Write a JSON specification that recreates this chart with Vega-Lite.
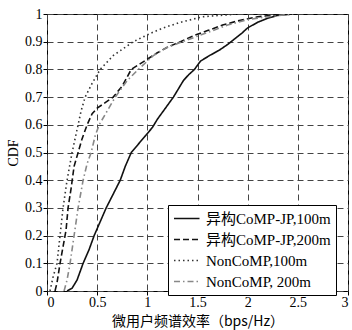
{
  "$schema": "https://vega.github.io/schema/vega-lite/v6.json",
  "autosize": "none",
  "width": 301,
  "height": 277,
  "padding": {"left": 47, "top": 14, "right": 4, "bottom": 39},
  "background": "white",
  "config": {
    "view": {"stroke": "black", "strokeWidth": 1},
    "font": "Liberation Serif",
    "axis": {
      "labelFont": "Liberation Serif",
      "labelFontSize": 14,
      "labelColor": "black",
      "titleFont": "Liberation Serif",
      "titleFontSize": 14,
      "titleFontWeight": "normal",
      "titleColor": "black",
      "grid": true,
      "gridColor": "#444",
      "gridDash": [6, 4],
      "gridWidth": 1,
      "domain": false,
      "tickColor": "black",
      "tickSize": 4
    },
    "legend": {
      "title": null,
      "orient": "none",
      "legendX": 121,
      "legendY": 191,
      "fillColor": "white",
      "strokeColor": "black",
      "padding": 5,
      "rowPadding": 4,
      "symbolType": "M-1,0H2.4",
      "symbolSize": 225,
      "symbolStrokeWidth": 1.6,
      "labelFont": "Liberation Serif, Noto Sans CJK SC",
      "labelFontSize": 15,
      "labelColor": "black",
      "labelOffset": 16
    }
  },
  "data": {
    "values": [
      {"s": "异构CoMP-JP,100m", "x": 0.2, "y": 0},
      {"s": "异构CoMP-JP,100m", "x": 0.25, "y": 0.01},
      {"s": "异构CoMP-JP,100m", "x": 0.3, "y": 0.04},
      {"s": "异构CoMP-JP,100m", "x": 0.36, "y": 0.1},
      {"s": "异构CoMP-JP,100m", "x": 0.42, "y": 0.15},
      {"s": "异构CoMP-JP,100m", "x": 0.47, "y": 0.2},
      {"s": "异构CoMP-JP,100m", "x": 0.53, "y": 0.25},
      {"s": "异构CoMP-JP,100m", "x": 0.59, "y": 0.3},
      {"s": "异构CoMP-JP,100m", "x": 0.66, "y": 0.35},
      {"s": "异构CoMP-JP,100m", "x": 0.73, "y": 0.4},
      {"s": "异构CoMP-JP,100m", "x": 0.78, "y": 0.45},
      {"s": "异构CoMP-JP,100m", "x": 0.84, "y": 0.5},
      {"s": "异构CoMP-JP,100m", "x": 0.91, "y": 0.53},
      {"s": "异构CoMP-JP,100m", "x": 0.98, "y": 0.56},
      {"s": "异构CoMP-JP,100m", "x": 1.05, "y": 0.59},
      {"s": "异构CoMP-JP,100m", "x": 1.1, "y": 0.62},
      {"s": "异构CoMP-JP,100m", "x": 1.18, "y": 0.66},
      {"s": "异构CoMP-JP,100m", "x": 1.26, "y": 0.7},
      {"s": "异构CoMP-JP,100m", "x": 1.31, "y": 0.73},
      {"s": "异构CoMP-JP,100m", "x": 1.36, "y": 0.76},
      {"s": "异构CoMP-JP,100m", "x": 1.41, "y": 0.78},
      {"s": "异构CoMP-JP,100m", "x": 1.47, "y": 0.8},
      {"s": "异构CoMP-JP,100m", "x": 1.53, "y": 0.83},
      {"s": "异构CoMP-JP,100m", "x": 1.62, "y": 0.85},
      {"s": "异构CoMP-JP,100m", "x": 1.72, "y": 0.87},
      {"s": "异构CoMP-JP,100m", "x": 1.8, "y": 0.89},
      {"s": "异构CoMP-JP,100m", "x": 1.87, "y": 0.91},
      {"s": "异构CoMP-JP,100m", "x": 1.94, "y": 0.93},
      {"s": "异构CoMP-JP,100m", "x": 2.0, "y": 0.95},
      {"s": "异构CoMP-JP,100m", "x": 2.1, "y": 0.97},
      {"s": "异构CoMP-JP,100m", "x": 2.2, "y": 0.985},
      {"s": "异构CoMP-JP,100m", "x": 2.3, "y": 0.995},
      {"s": "异构CoMP-JP,100m", "x": 2.45, "y": 1.0},
      {"s": "异构CoMP-JP,200m", "x": 0.08, "y": 0},
      {"s": "异构CoMP-JP,200m", "x": 0.1, "y": 0.03},
      {"s": "异构CoMP-JP,200m", "x": 0.13, "y": 0.1},
      {"s": "异构CoMP-JP,200m", "x": 0.16, "y": 0.16},
      {"s": "异构CoMP-JP,200m", "x": 0.19, "y": 0.22},
      {"s": "异构CoMP-JP,200m", "x": 0.21, "y": 0.3},
      {"s": "异构CoMP-JP,200m", "x": 0.24, "y": 0.37},
      {"s": "异构CoMP-JP,200m", "x": 0.27, "y": 0.45},
      {"s": "异构CoMP-JP,200m", "x": 0.31, "y": 0.5},
      {"s": "异构CoMP-JP,200m", "x": 0.35, "y": 0.55},
      {"s": "异构CoMP-JP,200m", "x": 0.4, "y": 0.6},
      {"s": "异构CoMP-JP,200m", "x": 0.45, "y": 0.64},
      {"s": "异构CoMP-JP,200m", "x": 0.5, "y": 0.66},
      {"s": "异构CoMP-JP,200m", "x": 0.58, "y": 0.68},
      {"s": "异构CoMP-JP,200m", "x": 0.66, "y": 0.7},
      {"s": "异构CoMP-JP,200m", "x": 0.75, "y": 0.74},
      {"s": "异构CoMP-JP,200m", "x": 0.84, "y": 0.8},
      {"s": "异构CoMP-JP,200m", "x": 0.97, "y": 0.83},
      {"s": "异构CoMP-JP,200m", "x": 1.1, "y": 0.86},
      {"s": "异构CoMP-JP,200m", "x": 1.2, "y": 0.88},
      {"s": "异构CoMP-JP,200m", "x": 1.33, "y": 0.9},
      {"s": "异构CoMP-JP,200m", "x": 1.45, "y": 0.92},
      {"s": "异构CoMP-JP,200m", "x": 1.6, "y": 0.94},
      {"s": "异构CoMP-JP,200m", "x": 1.75, "y": 0.96},
      {"s": "异构CoMP-JP,200m", "x": 1.9, "y": 0.975},
      {"s": "异构CoMP-JP,200m", "x": 2.1, "y": 0.99},
      {"s": "异构CoMP-JP,200m", "x": 2.4, "y": 1.0},
      {"s": "NonCoMP,100m", "x": 0.03, "y": 0},
      {"s": "NonCoMP,100m", "x": 0.06, "y": 0.05},
      {"s": "NonCoMP,100m", "x": 0.1, "y": 0.1},
      {"s": "NonCoMP,100m", "x": 0.13, "y": 0.2},
      {"s": "NonCoMP,100m", "x": 0.16, "y": 0.3},
      {"s": "NonCoMP,100m", "x": 0.2, "y": 0.4},
      {"s": "NonCoMP,100m", "x": 0.25, "y": 0.5},
      {"s": "NonCoMP,100m", "x": 0.28, "y": 0.55},
      {"s": "NonCoMP,100m", "x": 0.31, "y": 0.6},
      {"s": "NonCoMP,100m", "x": 0.34, "y": 0.65},
      {"s": "NonCoMP,100m", "x": 0.38, "y": 0.7},
      {"s": "NonCoMP,100m", "x": 0.45, "y": 0.75},
      {"s": "NonCoMP,100m", "x": 0.53, "y": 0.8},
      {"s": "NonCoMP,100m", "x": 0.66, "y": 0.85},
      {"s": "NonCoMP,100m", "x": 0.86, "y": 0.9},
      {"s": "NonCoMP,100m", "x": 1.03, "y": 0.93},
      {"s": "NonCoMP,100m", "x": 1.16, "y": 0.95},
      {"s": "NonCoMP,100m", "x": 1.33, "y": 0.97},
      {"s": "NonCoMP,100m", "x": 1.55, "y": 0.99},
      {"s": "NonCoMP,100m", "x": 1.9, "y": 1.0},
      {"s": "NonCoMP, 200m", "x": 0.17, "y": 0},
      {"s": "NonCoMP, 200m", "x": 0.2, "y": 0.04},
      {"s": "NonCoMP, 200m", "x": 0.23, "y": 0.1},
      {"s": "NonCoMP, 200m", "x": 0.27, "y": 0.2},
      {"s": "NonCoMP, 200m", "x": 0.31, "y": 0.3},
      {"s": "NonCoMP, 200m", "x": 0.36, "y": 0.4},
      {"s": "NonCoMP, 200m", "x": 0.4, "y": 0.46},
      {"s": "NonCoMP, 200m", "x": 0.44, "y": 0.5},
      {"s": "NonCoMP, 200m", "x": 0.48, "y": 0.56},
      {"s": "NonCoMP, 200m", "x": 0.52, "y": 0.6},
      {"s": "NonCoMP, 200m", "x": 0.6, "y": 0.65},
      {"s": "NonCoMP, 200m", "x": 0.68, "y": 0.7},
      {"s": "NonCoMP, 200m", "x": 0.8, "y": 0.76},
      {"s": "NonCoMP, 200m", "x": 0.91, "y": 0.8},
      {"s": "NonCoMP, 200m", "x": 1.06, "y": 0.85},
      {"s": "NonCoMP, 200m", "x": 1.2, "y": 0.88},
      {"s": "NonCoMP, 200m", "x": 1.35, "y": 0.9},
      {"s": "NonCoMP, 200m", "x": 1.5, "y": 0.92},
      {"s": "NonCoMP, 200m", "x": 1.65, "y": 0.94},
      {"s": "NonCoMP, 200m", "x": 1.8, "y": 0.96},
      {"s": "NonCoMP, 200m", "x": 2.0, "y": 0.98},
      {"s": "NonCoMP, 200m", "x": 2.2, "y": 0.99},
      {"s": "NonCoMP, 200m", "x": 2.45, "y": 1.0}
    ]
  },
  "mark": {"type": "line", "strokeWidth": 1.6, "clip": true},
  "encoding": {
    "x": {
      "field": "x", "type": "quantitative",
      "scale": {"domain": [0, 3], "nice": false, "zero": false},
      "axis": {"values": [0, 0.5, 1, 1.5, 2, 2.5, 3], "format": "~g", "title": "微用户频谱效率（bps/Hz）",
               "titleFont": "Noto Sans CJK SC", "titleFontSize": 14, "titlePadding": 5, "labelPadding": 0}
    },
    "y": {
      "field": "y", "type": "quantitative",
      "scale": {"domain": [0, 1], "nice": false},
      "axis": {"values": [0, 0.1, 0.2, 0.3, 0.4, 0.5, 0.6, 0.7, 0.8, 0.9, 1], "format": "~g", "title": "CDF", "titlePadding": 4, "labelPadding": 1}
    },
    "color": {
      "field": "s", "type": "nominal",
      "scale": {
        "domain": ["异构CoMP-JP,100m", "异构CoMP-JP,200m", "NonCoMP,100m", "NonCoMP, 200m"],
        "range": ["#111111", "#111111", "#333333", "#888888"]
      },
      "legend": {}
    },
    "strokeDash": {
      "field": "s", "type": "nominal",
      "scale": {
        "domain": ["异构CoMP-JP,100m", "异构CoMP-JP,200m", "NonCoMP,100m", "NonCoMP, 200m"],
        "range": [[1, 0], [6, 3], [1.5, 3], [6, 3, 1.5, 3]]
      },
      "legend": {}
    }
  }
}
